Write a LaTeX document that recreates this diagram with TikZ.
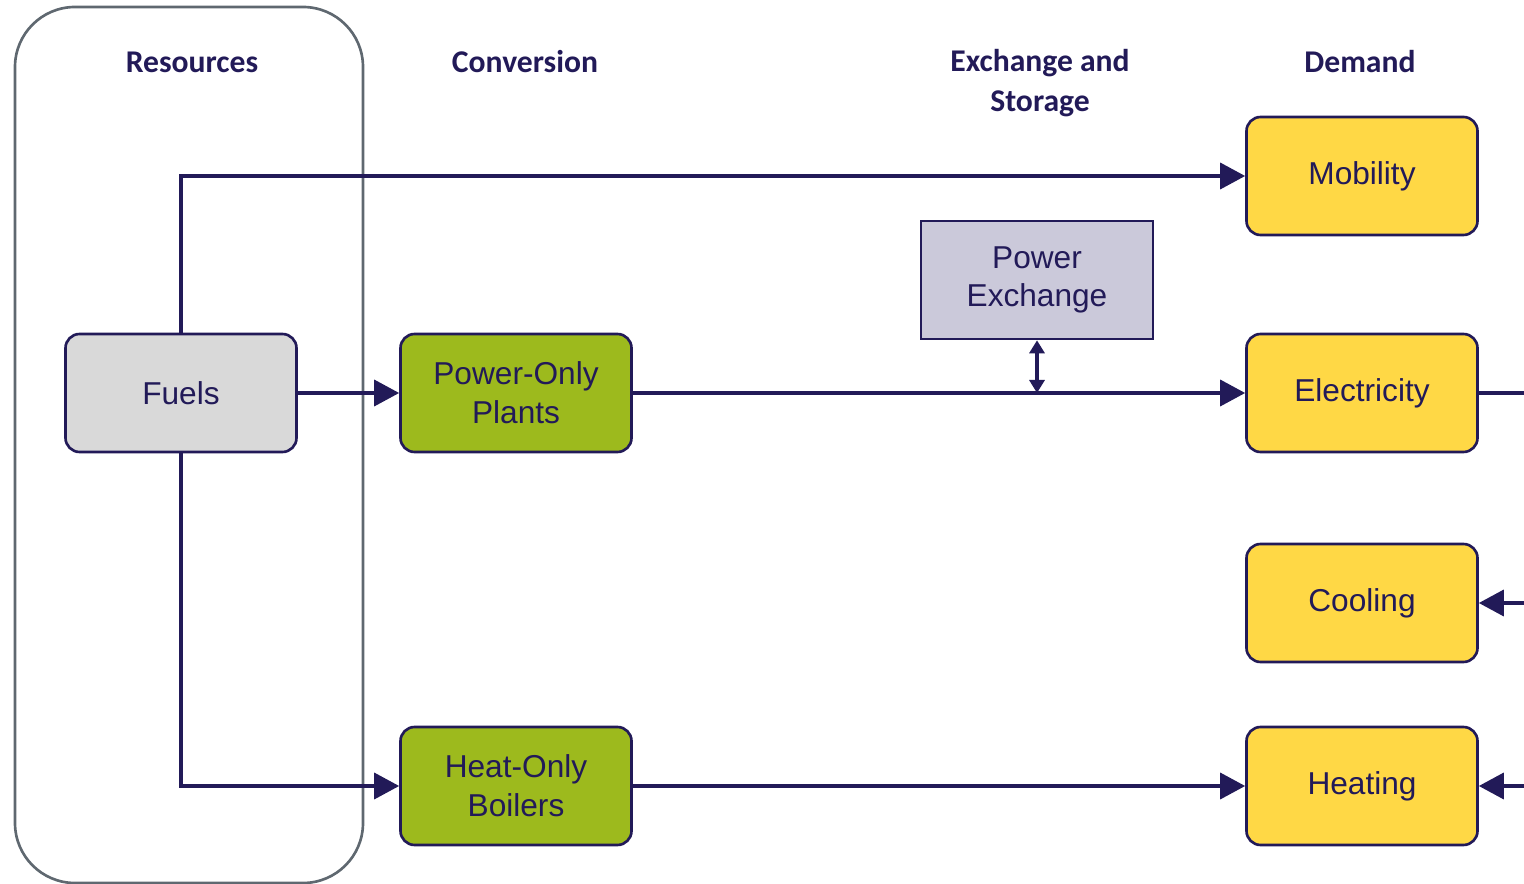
\documentclass[tikz,border=0pt]{standalone}
\usepackage{fontspec}
\setmainfont{Liberation Sans}
\newfontfamily\headfont{Carlito}
\usepackage{tikz}
\usetikzlibrary{arrows.meta, positioning}

\definecolor{navy}{HTML}{221A58}
\definecolor{fuelgray}{HTML}{D9D9D9}
\definecolor{convgreen}{HTML}{9DBA1D}
\definecolor{xchgray}{HTML}{CBC9DA}
\definecolor{demandgold}{HTML}{FFD845}
\definecolor{framegray}{HTML}{5F6870}

\begin{document}
\begin{tikzpicture}[
  every node/.style={font=\fontsize{18}{22}\selectfont, text=navy},
  box/.style={
    draw=navy, line width=1.5pt, rounded corners=8pt, minimum width=4.62cm,
    minimum height=2.36cm, align=center, inner sep=2pt
  },
  fuel/.style={box, fill=fuelgray},
  plant/.style={box, fill=convgreen},
  exchange/.style={box, rounded corners=0pt, fill=xchgray, minimum width=4.64cm},
  demand/.style={box, fill=demandgold},
  heading/.style={font=\headfont\bfseries\fontsize{18}{23}\selectfont, align=center},
  flow/.style={draw=navy, line width=2pt, -{Triangle[length=0.5cm, width=0.52cm]}},
  link/.style={draw=navy, line width=1.8pt, {Triangle[length=0.26cm, width=0.3cm]}-{Triangle[length=0.26cm, width=0.3cm]}}
]
\useasboundingbox (0,0) rectangle (30.48,-17.68);

% --- Resources frame ---
\draw[framegray, line width=1.5pt, rounded corners=1.2cm] (0.3,-0.14) rectangle (7.26,-17.66);

% --- Column headings ---
\node[heading] (hres) at (3.84,-1.24) {Resources};
\node[heading] (hconv) at (10.5,-1.24) {Conversion};
\node[heading] (hxch) at (20.8,-1.66) {Exchange and\\Storage};
\node[heading] (hdem) at (27.2,-1.24) {Demand};

% --- Boxes ---
\node[fuel] (fuels) at (3.62,-7.86) {Fuels};
\node[plant] (poweronly) at (10.32,-7.86) {Power-Only\\Plants};
\node[plant] (heatonly) at (10.32,-15.72) {Heat-Only\\Boilers};
\node[exchange] (pxch) at (20.74,-5.6) {Power\\Exchange};
\node[demand] (mobility) at (27.24,-3.52) {Mobility};
\node[demand] (electricity) at (27.24,-7.86) {Electricity};
\node[demand] (cooling) at (27.24,-12.06) {Cooling};
\node[demand] (heating) at (27.24,-15.72) {Heating};

% --- Loose ends on the right ---
\coordinate (elecout) at (30.6,-7.86);
\coordinate (coolin) at (30.6,-12.06);
\coordinate (heatin) at (30.6,-15.72);
\coordinate (tap) at (pxch.south |- electricity.west);

% --- Fuel flows ---
\draw[flow] (fuels.north) |- (mobility.west);
\draw[flow] (fuels.east) -- (poweronly.west);
\draw[flow] (fuels.south) |- (heatonly.west);

% --- Conversion to demand ---
\draw[flow] (poweronly.east) -- (electricity.west);
\draw[flow] (heatonly.east) -- (heating.west);
\draw[link] (pxch.south) -- (tap);

% --- Right side ---
\draw[navy, line width=2pt] (electricity.east) -- (elecout);
\draw[flow] (coolin) -- (cooling.east);
\draw[flow] (heatin) -- (heating.east);
\end{tikzpicture}
\end{document}
